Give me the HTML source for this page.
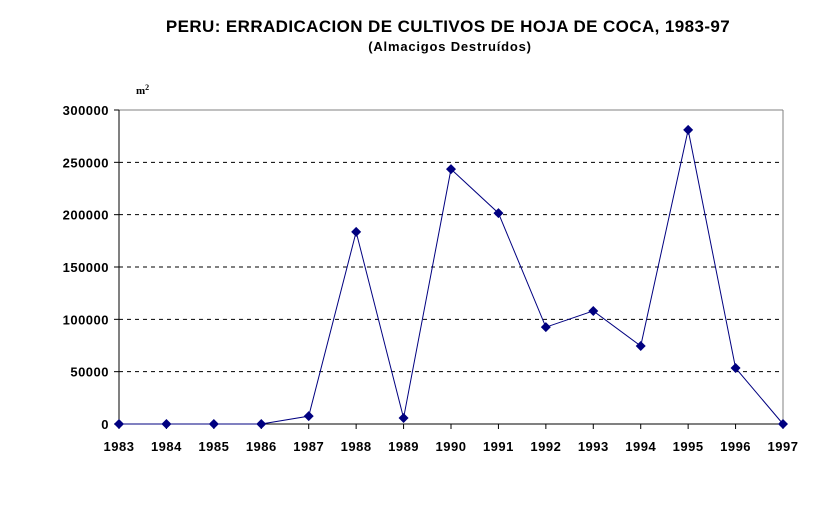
<!DOCTYPE html>
<html><head><meta charset="utf-8"><style>
body{margin:0;background:#fff;width:830px;height:525px;overflow:hidden}
svg text{font-family:"Liberation Sans",Arial,sans-serif;font-weight:bold}
</style></head><body>
<svg id="chart" width="830" height="525" viewBox="0 0 830 525">
<text x="448" y="32" text-anchor="middle" font-size="17" letter-spacing="0.4">PERU: ERRADICACION DE CULTIVOS DE HOJA DE COCA, 1983-97</text>
<text x="450" y="51" text-anchor="middle" font-size="13" letter-spacing="0.8">(Almacigos Destruídos)</text>
<text x="136" y="94" font-size="11" style="font-family:'Liberation Serif',serif">m<tspan dy="-4" font-size="8">2</tspan></text>
<g id="grid"></g><g id="axes"></g><g id="series"></g>
</svg>
<script>
const years=["1983","1984","1985","1986","1987","1988","1989","1990","1991","1992","1993","1994","1995","1996","1997"];
const values=[0,0,0,0,7500,183500,5700,243500,201500,92500,108000,74500,281000,53500,0];
const yTicks=[0,50000,100000,150000,200000,250000,300000];
const NS="http://www.w3.org/2000/svg";
const X0=119,X1=783,YB=424,YT=110,YMAX=300000;
const xs=i=>X0+i*(X1-X0)/(years.length-1);
const ys=v=>YB-v/YMAX*(YB-YT);
function mk(t,a,p){const e=document.createElementNS(NS,t);for(const k in a)e.setAttribute(k,a[k]);p.appendChild(e);return e;}
const gridG=document.getElementById('grid'),axesG=document.getElementById('axes'),serG=document.getElementById('series');
yTicks.forEach(v=>{
 if(v>0&&v<YMAX){const g=mk('line',{x1:X0,x2:X1,y1:ys(v),y2:ys(v),stroke:'#000','stroke-dasharray':'4,4','stroke-width':1},gridG);
 
 }
 const tk=mk('line',{x1:X0-5,x2:X0,y1:ys(v),y2:ys(v),stroke:'#000'},axesG);
 
 
 const t=mk('text',{x:X0-10,y:ys(v)+5,'text-anchor':'end','font-size':13,'letter-spacing':0.5},axesG);t.textContent=v;
 
 
});
const topB=mk('line',{x1:X0,x2:X1,y1:YT,y2:YT,stroke:'#808080'},axesG);


const rightB=mk('line',{x1:X1,x2:X1,y1:YT,y2:YB,stroke:'#808080'},axesG);


const yAx=mk('line',{x1:X0,x2:X0,y1:YT,y2:YB,stroke:'#000'},axesG);


const xAx=mk('line',{x1:X0,x2:X1,y1:YB,y2:YB,stroke:'#000'},axesG);


years.forEach((y,i)=>{
 const tk=mk('line',{x1:xs(i),x2:xs(i),y1:YB,y2:YB+5,stroke:'#000'},axesG);
 
 
 const t=mk('text',{x:xs(i),y:YB+27,'text-anchor':'middle','font-size':13,'letter-spacing':0.5},axesG);t.textContent=y;
 
 
});
const pl=mk('polyline',{points:values.map((v,i)=>xs(i)+','+ys(v)).join(' '),fill:'none',stroke:'#000080','stroke-width':1},serG);


values.forEach((v,i)=>{
 const cx=xs(i),cy=ys(v),r=5;
 const m=mk('polygon',{points:`${cx},${cy-r} ${cx+r},${cy} ${cx},${cy+r} ${cx-r},${cy}`,fill:'#000080'},serG);
 
 
});
</script>
</body></html>
